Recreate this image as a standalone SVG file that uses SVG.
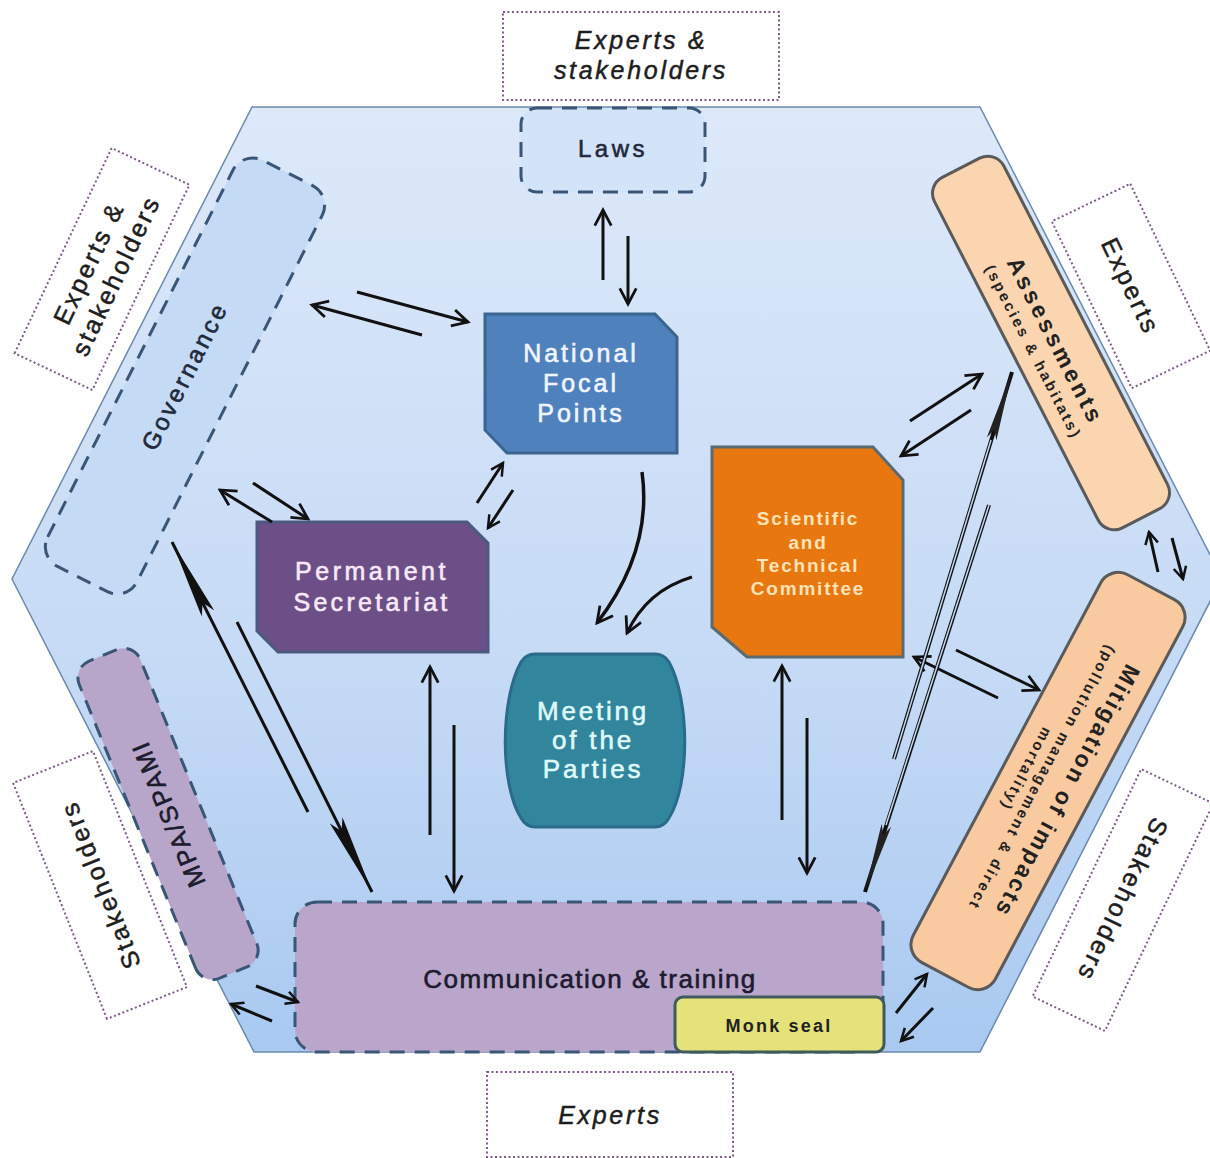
<svg xmlns="http://www.w3.org/2000/svg" width="1210" height="1158" viewBox="0 0 1210 1158">
<defs>
<linearGradient id="hexg" x1="0" y1="0" x2="0" y2="1">
<stop offset="0" stop-color="#dde9f9"/>
<stop offset="0.6" stop-color="#c5daf5"/>
<stop offset="1" stop-color="#a9c9f1"/>
</linearGradient>
<marker id="ah" viewBox="0 0 24 24" refX="21" refY="12" markerWidth="22" markerHeight="22" markerUnits="userSpaceOnUse" orient="auto">
<path d="M4,3 L21,12 L4,21" fill="none" stroke="#111" stroke-width="3"/>
</marker>
<marker id="ahs" viewBox="0 0 24 24" refX="21" refY="12" markerWidth="17" markerHeight="17" markerUnits="userSpaceOnUse" orient="auto">
<path d="M4,3 L21,12 L4,21" fill="none" stroke="#111" stroke-width="3.5"/>
</marker>
<marker id="spike" viewBox="0 0 80 14" refX="80" refY="7" markerWidth="80" markerHeight="14" markerUnits="userSpaceOnUse" orient="auto">
<path d="M0,0 L80,7 L0,14 L12,7 Z" fill="#111"/>
</marker>
<marker id="spike2" viewBox="0 0 70 10" refX="70" refY="5" markerWidth="70" markerHeight="10" markerUnits="userSpaceOnUse" orient="auto">
<path d="M0,0 L70,5 L0,10 L10,5 Z" fill="#222"/>
</marker>
</defs>
<style>
text{font-family:"Liberation Sans",Arial,sans-serif;text-anchor:middle}
.outer rect{fill:#fff;stroke:#7d5b86;stroke-width:2;stroke-dasharray:2 2.5}
.outer text{font-size:25px;fill:#1d1d1d;stroke:#1d1d1d;stroke-width:0.5;letter-spacing:2.7px}
.it{font-style:italic}
.thick{stroke-width:0.6}
.dash{stroke:#3a5676;stroke-width:3;stroke-dasharray:15 10}
.arr{fill:none;stroke:#111;stroke-width:3;marker-end:url(#ah)}
.arrs{fill:none;stroke:#111;stroke-width:3;marker-end:url(#ahs)}
</style>
<rect width="1210" height="1158" fill="#fff"/>
<g id="hexagon">
<path d="M252,107 L980,107 L1222,578 L980,1052 L254,1052 L12,579 Z" fill="url(#hexg)" stroke="#6b8aac" stroke-width="1.5"/>
</g>
<g id="outer-top" class="outer">
<rect x="503" y="12" width="276" height="88"/>
<text class="it" x="641" y="49">Experts &amp;</text>
<text class="it" x="641" y="79">stakeholders</text>
</g>
<g id="outer-left-top" class="outer" transform="translate(102,269) rotate(-64.7)">
<rect x="-113.5" y="-43" width="227" height="86"/>
<text x="0" y="-6">Experts &amp;</text>
<text x="0" y="24">stakeholders</text>
</g>
<g id="outer-right-top" class="outer" transform="translate(1131,286) rotate(64.4)">
<rect x="-92.5" y="-43.5" width="185" height="87"/>
<text x="0" y="9">Experts</text>
</g>
<g id="outer-right-bottom" class="outer" transform="translate(1123,900) rotate(115.5)">
<rect x="-126" y="-40" width="252" height="80"/>
<text x="0" y="9">Stakeholders</text>
</g>
<g id="outer-left-bottom" class="outer" transform="translate(100,885) rotate(-111.7)">
<rect x="-127" y="-43" width="254" height="86"/>
<text x="0" y="9">Stakeholders</text>
</g>
<g id="outer-bottom" class="outer">
<rect x="487" y="1072" width="246" height="85"/>
<text class="it" x="610" y="1124">Experts</text>
</g>
<g id="laws">
<rect x="521" y="108" width="184" height="84" rx="16" fill="#d3e3f8" class="dash"/>
<text x="613" y="157" font-size="24" fill="#1f2a3a" stroke="#1f2a3a" class="thick" letter-spacing="3.5">Laws</text>
</g>
<g id="governance" transform="translate(185,376) rotate(-63.2)">
<rect x="-227.5" y="-50" width="455" height="100" rx="22" fill="#c4daf5" class="dash"/>
<text x="0" y="8" font-size="24" fill="#1f2a3a" stroke="#1f2a3a" class="thick" letter-spacing="3.2">Governance</text>
</g>
<g id="mpa" transform="translate(168,814) rotate(-112.3)">
<rect x="-171.5" y="-33" width="343" height="66" rx="18" fill="#b8a6ca" class="dash"/>
<text x="0" y="9" font-size="25" fill="#1c1c2c" stroke="#1c1c2c" class="thick" letter-spacing="2.3">MPA/SPAMI</text>
</g>
<g id="communication">
<rect x="295" y="902" width="588" height="150" rx="22" fill="#b9a6ca" class="dash"/>
<text x="590" y="988" font-size="26" fill="#1e1a30" stroke="#1e1a30" class="thick" letter-spacing="1.5">Communication &amp; training</text>
</g>
<g id="monkseal">
<rect x="675" y="997" width="209" height="55" rx="8" fill="#e6e27a" stroke="#3f5a5a" stroke-width="3"/>
<text x="779" y="1032" font-size="18" font-weight="bold" fill="#222" letter-spacing="2.2">Monk seal</text>
</g>
<g id="assessments" transform="translate(1051,343) rotate(62.8)">
<rect x="-197" y="-39" width="394" height="78" rx="18" fill="#fbd4b0" stroke="#5a5a5a" stroke-width="3"/>
<text x="0" y="3" font-size="23" font-weight="bold" fill="#222" letter-spacing="3.3">Assessments</text>
<text x="0" y="25" font-size="15" font-weight="bold" fill="#222" letter-spacing="2.6">(species &amp; habitats)</text>
</g>
<g id="mitigation" transform="translate(1048,781) rotate(118)">
<rect x="-219.5" y="-46.5" width="439" height="93" rx="20" fill="#f9c9a0" stroke="#5a5a5a" stroke-width="3"/>
<text x="0" y="-14" font-size="23" font-weight="bold" fill="#222" letter-spacing="2.5">Mitigation of impacts</text>
<text x="0" y="12" font-size="15" font-weight="bold" fill="#222" letter-spacing="2.4">(pollution management &amp; direct</text>
<text x="0" y="30" font-size="15" font-weight="bold" fill="#222" letter-spacing="2.4">mortality)</text>
</g>
<g id="nfp">
<path d="M485,314 L655,314 L677,337 L677,453 L507,453 L485,430 Z" fill="#4f81bd" stroke="#3a6591" stroke-width="3"/>
<text x="581" y="362" font-size="25" fill="#f0f4ff" stroke="#f0f4ff" class="thick" letter-spacing="3">National</text>
<text x="581" y="392" font-size="25" fill="#f0f4ff" stroke="#f0f4ff" class="thick" letter-spacing="3">Focal</text>
<text x="581" y="422" font-size="25" fill="#f0f4ff" stroke="#f0f4ff" class="thick" letter-spacing="3">Points</text>
</g>
<g id="secretariat">
<path d="M257,522 L467,522 L488,543 L488,652 L278,652 L257,631 Z" fill="#6b4f86" stroke="#4a5a80" stroke-width="3"/>
<text x="372" y="580" font-size="25" fill="#f6e8f6" stroke="#f6e8f6" class="thick" letter-spacing="3.5">Permanent</text>
<text x="372" y="611" font-size="25" fill="#f6e8f6" stroke="#f6e8f6" class="thick" letter-spacing="3.3">Secretariat</text>
</g>
<g id="stc">
<path d="M712,447 L873,447 L903,480 L903,657 L747,657 L712,627 Z" fill="#e8770f" stroke="#5a6a70" stroke-width="3"/>
<text x="808" y="525" font-size="19" font-weight="bold" fill="#fde3b8" letter-spacing="1.8">Scientific</text>
<text x="808" y="549" font-size="19" font-weight="bold" fill="#fde3b8" letter-spacing="1.8">and</text>
<text x="808" y="572" font-size="19" font-weight="bold" fill="#fde3b8" letter-spacing="1.8">Technical</text>
<text x="808" y="595" font-size="19" font-weight="bold" fill="#fde3b8" letter-spacing="1.8">Committee</text>
</g>
<g id="meeting">
<path d="M535,654 L655,654 Q664,654 669,662 C690,700 690,785 669,818 Q664,827 655,827 L535,827 Q526,827 521,818 C500,785 500,700 521,662 Q526,654 535,654 Z" fill="#31859c" stroke="#2a6a8a" stroke-width="3"/>
<text x="593" y="720" font-size="26" fill="#dff8f8" stroke="#dff8f8" class="thick" letter-spacing="2.8">Meeting</text>
<text x="593" y="749" font-size="26" fill="#dff8f8" stroke="#dff8f8" class="thick" letter-spacing="2.8">of the</text>
<text x="593" y="778" font-size="26" fill="#dff8f8" stroke="#dff8f8" class="thick" letter-spacing="2.8">Parties</text>
</g>
<g id="connectors">
<path class="arr" d="M603,280 L603,210"/>
<path class="arr" d="M628,236 L628,304"/>
<path class="arr" d="M422,335 L312,305"/>
<path class="arr" d="M357,292 L468,322"/>
<path class="arr" d="M272,522 L220,490"/>
<path class="arr" d="M253,483 L308,519"/>
<path class="arrs" d="M477,503 L503,463"/>
<path class="arrs" d="M513,490 L488,528"/>
<path class="arr" style="stroke-width:3.5" d="M642,472 C650,530 630,580 597,623"/>
<path class="arr" d="M692,577 C662,586 640,605 627,633"/>
<path class="arr" d="M910,421 L982,374"/>
<path class="arr" d="M971,410 L901,456"/>
<path class="arr" d="M998,698 L914,657"/>
<path class="arr" d="M956,650 L1039,690"/>
<path class="arr" d="M430,835 L430,667"/>
<path class="arr" d="M454,725 L454,891"/>
<path class="arr" d="M782,820 L782,666"/>
<path class="arr" d="M807,718 L807,873"/>
<path class="arrs" d="M272,1021 L231,1004"/>
<path class="arrs" d="M256,986 L298,1002"/>
<path class="arrs" d="M896,1013 L927,974"/>
<path class="arrs" d="M933,1008 L901,1041"/>
<path class="arrs" d="M1158,572 L1149,532"/>
<path class="arrs" d="M1172,538 L1183,579"/>
<path d="M308,812 L172,542" fill="none" stroke="#111" stroke-width="3" marker-end="url(#spike)"/>
<path d="M237,622 L372,892" fill="none" stroke="#111" stroke-width="3" marker-end="url(#spike)"/>
<path d="M894,759 L1012,372" fill="none" stroke="#111" stroke-width="4" marker-end="url(#spike2)"/>
<path d="M894,759 L991,440" fill="none" stroke="#c4d9f4" stroke-width="1.5"/>
<path d="M989,505 L865,892" fill="none" stroke="#111" stroke-width="4" marker-end="url(#spike2)"/>
<path d="M989,505 L886,825" fill="none" stroke="#c4d9f4" stroke-width="1.5"/>
</g>
</svg>
